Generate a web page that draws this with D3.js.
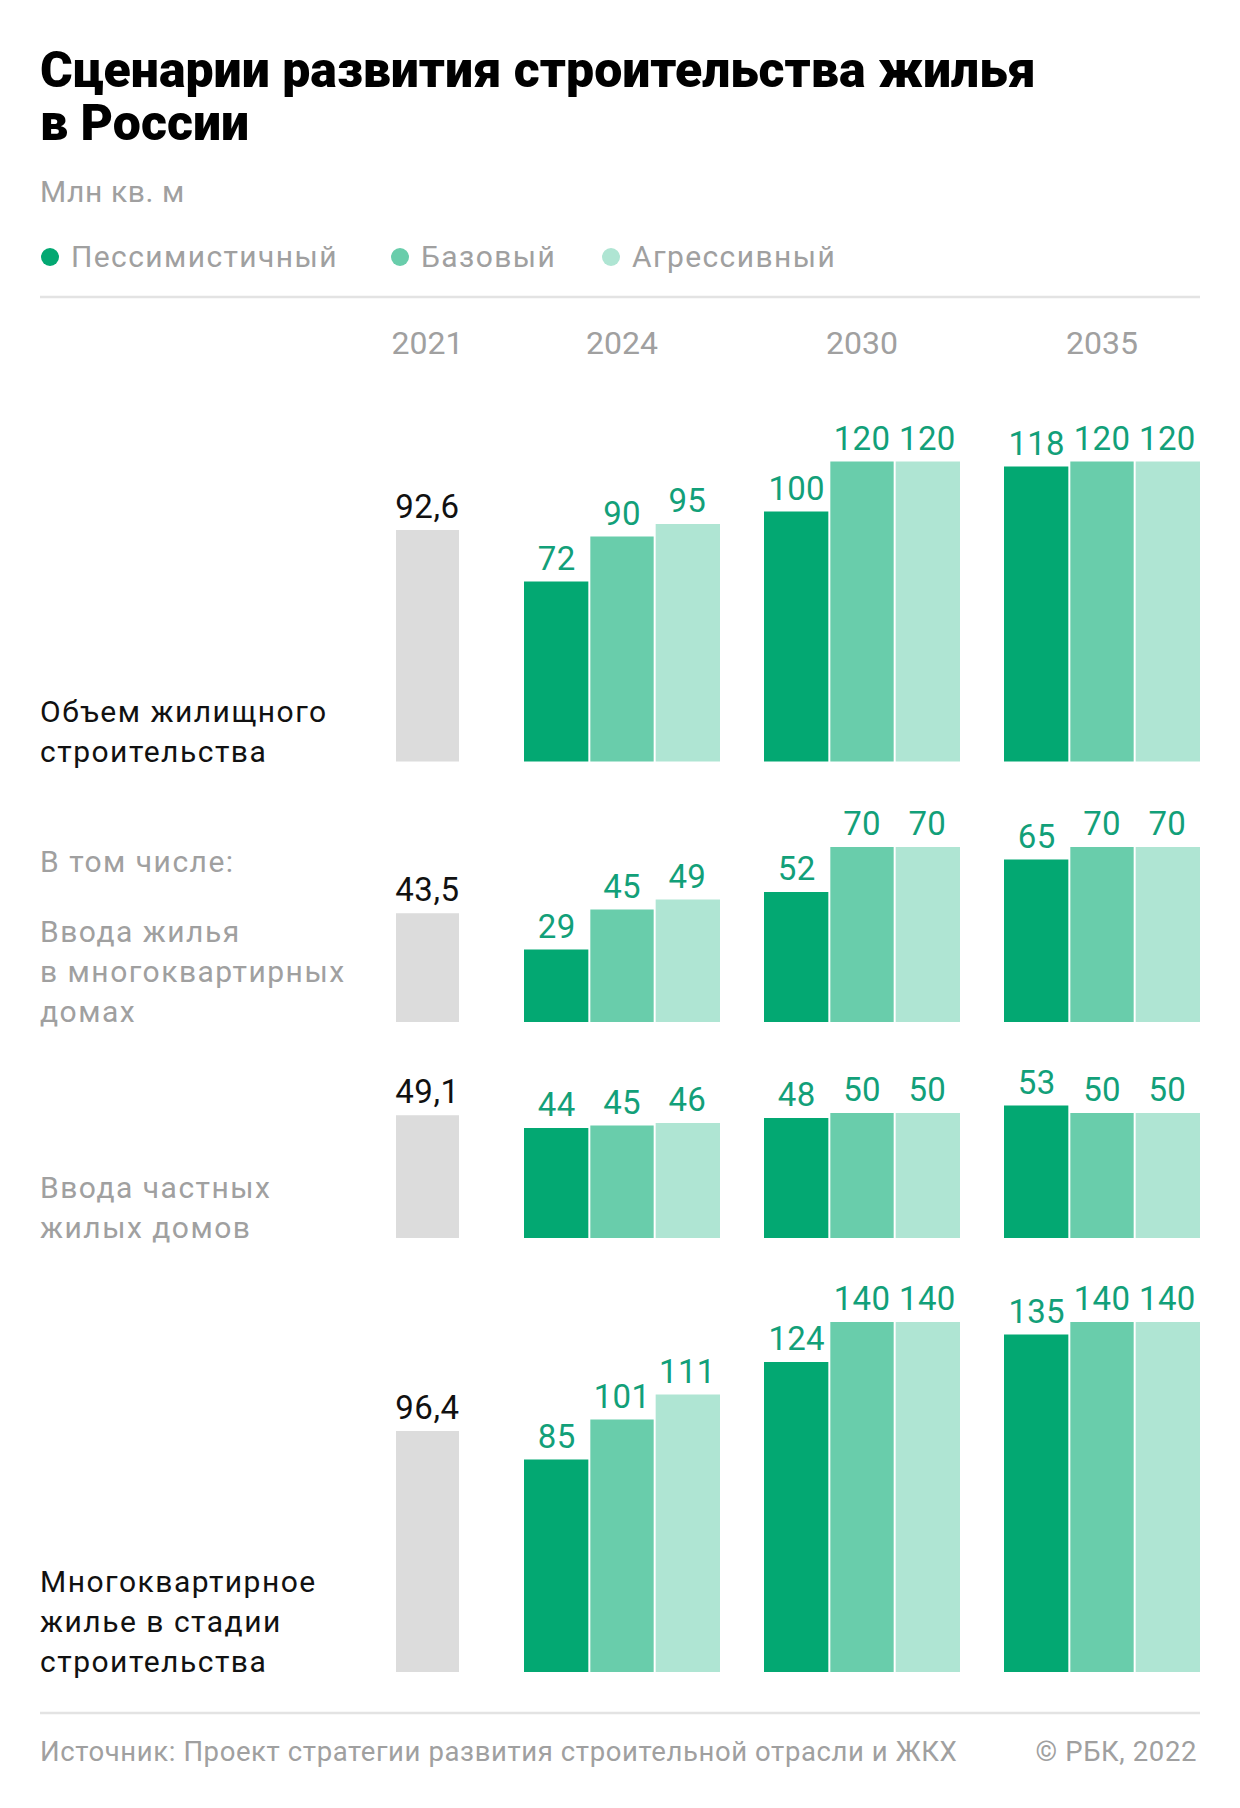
<!DOCTYPE html>
<html><head><meta charset="utf-8">
<script src="https://cdn.jsdelivr.net/npm/d3@7"></script>
<style>
html,body{margin:0;padding:0;background:#fff;}
svg{display:block;font-family:Roboto,"Noto Sans",sans-serif;}
</style></head>
<body>
<svg id="chart" width="1240" height="1808"></svg>
<script>
// ---- data ----
const titleLines = ["Сценарии развития строительства жилья", "в России"];
const unitLabel = "Млн кв. м";
const scenarios = ["Пессимистичный", "Базовый", "Агрессивный"];
const baseYear = "2021";
const forecastYears = ["2024", "2030", "2035"];
const panelLabels = [
  ["Объем жилищного", "строительства"],
  ["Ввода жилья", "в многоквартирных", "домах"],
  ["Ввода частных", "жилых домов"],
  ["Многоквартирное", "жилье в стадии", "строительства"]
];
const subHeader = "В том числе:";
const actual2021 = [92.6, 43.5, 49.1, 96.4];
const pessimistic = [[72, 100, 118], [29, 52, 65], [44, 48, 53], [85, 124, 135]];
const baseline = [[90, 120, 120], [45, 70, 70], [45, 50, 50], [101, 140, 140]];
const aggressive = [[95, 120, 120], [49, 70, 70], [46, 50, 50], [111, 140, 140]];
const sourceText = "Источник: Проект стратегии развития строительной отрасли и ЖКХ";
const creditText = "© РБК, 2022";

// ---- styles ----
const colors = ["#03a872", "#69cdab", "#afe5d3"];
const grayBar = "#dcdcdc";
const labelGreen = "#12a079";
const grayText = "#a0a0a0";

const svg = d3.select("#chart");
const L = 40, R = 1200;

// title
svg.selectAll("text.title").data(titleLines).join("text")
  .attr("x", L).attr("y", (d, i) => 87 + i * 53)
  .attr("font-size", 50).attr("font-weight", 900).attr("fill", "#000")
  .text(d => d);

svg.append("text").attr("x", L).attr("y", 202).attr("font-size", 30).attr("letter-spacing", 0.6)
  .attr("fill", grayText).text(unitLabel);

// legend
const legendX = [50, 400, 611];
const lg = svg.selectAll("g.leg").data(scenarios).join("g")
  .attr("transform", (d, i) => `translate(${legendX[i]},0)`);
lg.append("circle").attr("cx", 0).attr("cy", 257).attr("r", 9).attr("fill", (d, i) => colors[i]);
lg.append("text").attr("x", 21).attr("y", 267).attr("font-size", 30).attr("letter-spacing", 1.4)
  .attr("fill", grayText).text(d => d);

svg.append("line").attr("x1", L).attr("x2", R).attr("y1", 297).attr("y2", 297)
  .attr("stroke", "#e3e3e3").attr("stroke-width", 2.5);

// x scales
const xGroup = d3.scaleBand().domain(forecastYears).range([524, R]).paddingInner(44 / 240).paddingOuter(0);
const xSub = d3.scaleBand().domain(scenarios).range([0, xGroup.bandwidth()]);
const x2021 = d3.scaleBand().domain([baseYear]).range([396, 459]);

// year labels
svg.append("text").attr("x", x2021(baseYear) + x2021.bandwidth() / 2).attr("y", 354)
  .attr("text-anchor", "middle").attr("font-size", 32).attr("fill", grayText).text(baseYear);
svg.selectAll("text.yr").data(forecastYears).join("text")
  .attr("x", d => xGroup(d) + xGroup.bandwidth() / 2).attr("y", 354)
  .attr("text-anchor", "middle").attr("font-size", 32).attr("fill", grayText).text(d => d);

// panels
const panelBottoms = [761.5, 1022, 1238, 1672];
const pxPerUnit = 2.5;
const labelColors = ["#111", grayText, grayText, "#111"];
const fmt = d3.formatLocale({decimal: ",", thousands: " ", grouping: [3], currency: ["", ""]});
const fmtVal = v => Number.isInteger(v) ? String(v) : fmt.format(".1f")(v);

panelBottoms.forEach((bottom, p) => {
  const y = d3.scaleLinear().domain([0, 140]).range([bottom, bottom - 140 * pxPerUnit]);
  const g = svg.append("g");
  // 2021 bar
  g.append("rect").attr("x", x2021(baseYear)).attr("width", x2021.bandwidth())
    .attr("y", y(actual2021[p])).attr("height", bottom - y(actual2021[p])).attr("fill", grayBar);
  g.append("text").attr("x", x2021(baseYear) + x2021.bandwidth() / 2).attr("y", y(actual2021[p]) - 12)
    .attr("text-anchor", "middle").attr("font-size", 33).attr("letter-spacing", 0.6)
    .attr("fill", "#111").text(fmtVal(actual2021[p]));
  // forecast bars
  const series = [pessimistic[p], baseline[p], aggressive[p]];
  forecastYears.forEach((yr, yi) => {
    scenarios.forEach((s, si) => {
      const v = series[si][yi];
      const x0 = xGroup(yr) + xSub(s);
      const w = xSub.bandwidth();
      g.append("rect").attr("x", x0 + (si === 0 ? 0 : 1)).attr("width", w - (si === 0 || si === 2 ? 1 : 2))
        .attr("y", y(v)).attr("height", bottom - y(v)).attr("fill", colors[si]);
      g.append("text").attr("x", x0 + w / 2).attr("y", y(v) - 12)
        .attr("text-anchor", "middle").attr("font-size", 33).attr("letter-spacing", 0.3)
        .attr("fill", labelGreen).text(fmtVal(v));
    });
  });
  // row label
  const lines = panelLabels[p];
  g.selectAll("text.rl").data(lines).join("text")
    .attr("x", L).attr("y", (d, i) => bottom - (lines.length - 1 - i) * 40)
    .attr("font-size", 30).attr("letter-spacing", 1.5).attr("fill", labelColors[p]).text(d => d);
  if (p === 1) {
    g.append("text").attr("x", L).attr("y", 872).attr("font-size", 30).attr("letter-spacing", 1.5)
      .attr("fill", grayText).text(subHeader);
  }
});

// footer
svg.append("line").attr("x1", L).attr("x2", R).attr("y1", 1713).attr("y2", 1713)
  .attr("stroke", "#e3e3e3").attr("stroke-width", 2.5);
svg.append("text").attr("x", L).attr("y", 1761).attr("font-size", 27.5).attr("letter-spacing", 0.6)
  .attr("fill", grayText).text(sourceText);
svg.append("text").attr("x", 1197).attr("y", 1761).attr("text-anchor", "end").attr("font-size", 27.5)
  .attr("letter-spacing", 0.6).attr("fill", grayText).text(creditText);
</script>
</body></html>
